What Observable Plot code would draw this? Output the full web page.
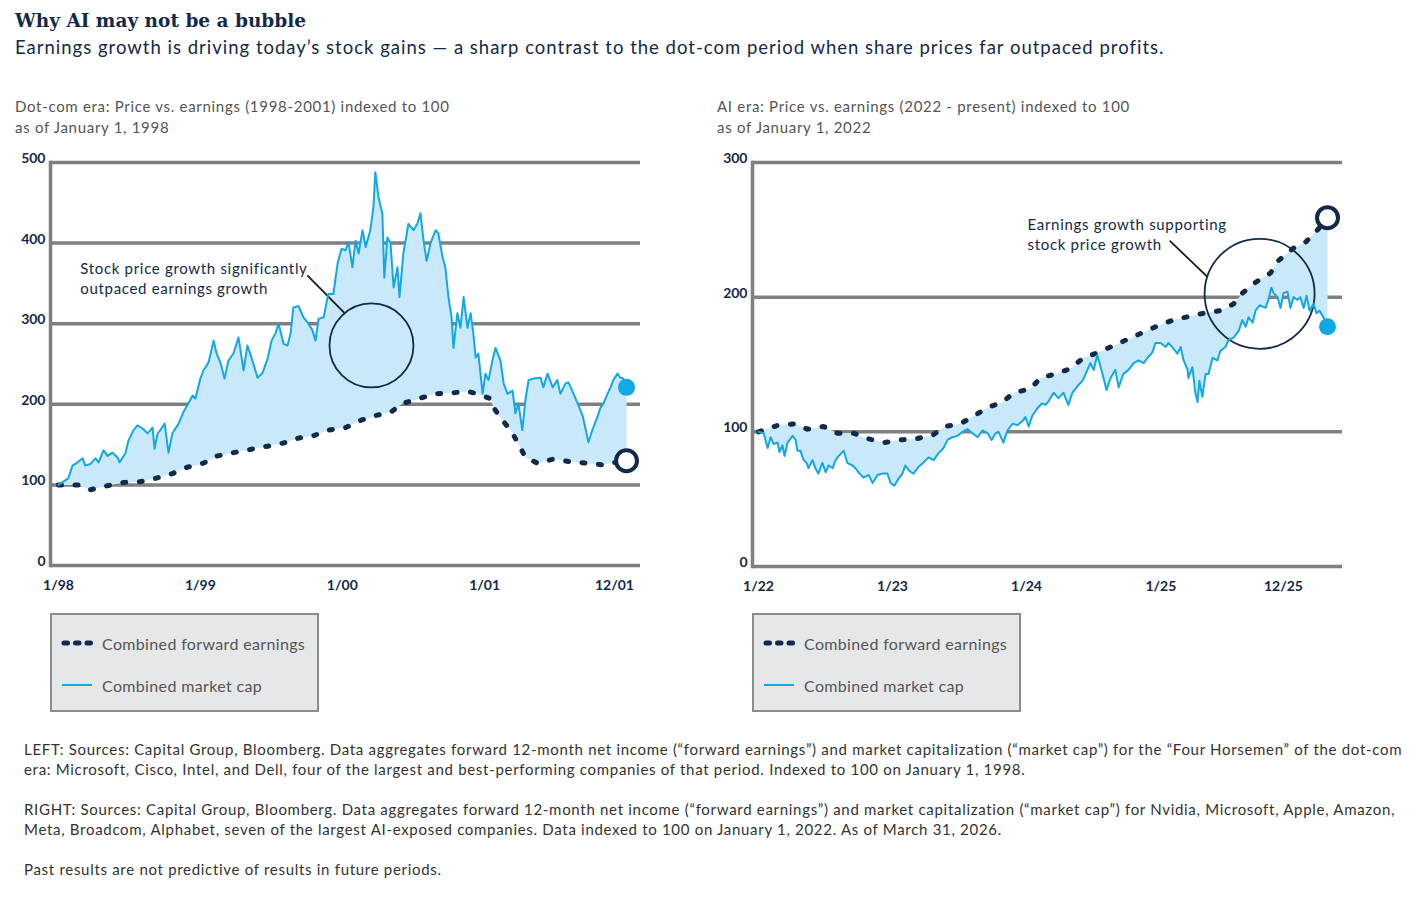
<!DOCTYPE html>
<html>
<head>
<meta charset="utf-8">
<script src="https://cdn.jsdelivr.net/npm/d3@7"></script>
<script src="https://cdn.jsdelivr.net/npm/@observablehq/plot@0.6"></script>
<style>
  body { margin: 0; background: #fff; font-family: Lato, "Noto Sans", sans-serif; }
  #page { position: relative; width: 1425px; height: 900px; overflow: hidden; }
  .abs { position: absolute; white-space: nowrap; }
  #title { left: 15px; top: 9px; font-family: "DejaVu Serif", serif; font-weight: 700; font-size: 18.5px; line-height: 24px; color: #13294b; }
  #subtitle { left: 15px; top: 36px; font-size: 18.5px; line-height: 22px; letter-spacing: 1px; color: #13294b; }
  .head { top: 96px; font-size: 15px; line-height: 21px; letter-spacing: 0.7px; color: #555; }
  .legend { position: absolute; top: 613px; width: 269px; height: 99px; box-sizing: border-box; border: 2px solid #8c8c8c; background: #e6e7e9; }
  .legend svg, .legend span { position: absolute; }
  .legend span { font-size: 16px; line-height: 20px; letter-spacing: 0.35px; color: #555; white-space: nowrap; }
  #notes { left: 24px; top: 739px; font-size: 15px; line-height: 20px; letter-spacing: 0.7px; color: #333; }
  #notes p { margin: 0 0 20px 0; }
  .chart { position: absolute; top: 140px; }
  .chart svg { overflow: visible; }
</style>
</head>
<body>
<div id="page">
  <div id="title" class="abs">Why AI may not be a bubble</div>
  <div id="subtitle" class="abs">Earnings growth is driving today’s stock gains — a sharp contrast to the dot-com period when share prices far outpaced profits.</div>

  <div class="abs head" style="left:15px">Dot-com era: Price vs. earnings (1998-2001) indexed to 100<br>as of January 1, 1998</div>
  <div class="abs head" style="left:717px">AI era: Price vs. earnings (2022 - present) indexed to 100<br>as of January 1, 2022</div>

  <div id="left" class="chart" style="left:0px"></div>
  <div id="right" class="chart" style="left:700px"></div>

  <div class="legend" style="left:50px">
    <svg style="left:8px;top:23px" width="36" height="10"><line x1="4" y1="5" x2="32" y2="5" stroke="#13294b" stroke-width="5" stroke-linecap="round" stroke-dasharray="3.5,8"/></svg>
    <span style="left:50px;top:19px">Combined forward earnings</span>
    <svg style="left:8px;top:65px" width="36" height="10"><line x1="2" y1="5" x2="32" y2="5" stroke="#12a8e6" stroke-width="2"/></svg>
    <span style="left:50px;top:61px">Combined market cap</span>
  </div>
  <div class="legend" style="left:752px">
    <svg style="left:8px;top:23px" width="36" height="10"><line x1="4" y1="5" x2="32" y2="5" stroke="#13294b" stroke-width="5" stroke-linecap="round" stroke-dasharray="3.5,8"/></svg>
    <span style="left:50px;top:19px">Combined forward earnings</span>
    <svg style="left:8px;top:65px" width="36" height="10"><line x1="2" y1="5" x2="32" y2="5" stroke="#12a8e6" stroke-width="2"/></svg>
    <span style="left:50px;top:61px">Combined market cap</span>
  </div>

  <div id="notes" class="abs">
    <p>LEFT: Sources: Capital Group, Bloomberg. Data aggregates forward 12-month net income (“forward earnings”) and market capitalization (“market cap”) for the “Four Horsemen” of the dot-com<br>era: Microsoft, Cisco, Intel, and Dell, four of the largest and best-performing companies of that period. Indexed to 100 on January 1, 1998.</p>
    <p>RIGHT: Sources: Capital Group, Bloomberg. Data aggregates forward 12-month net income (“forward earnings”) and market capitalization (“market cap”) for Nvidia, Microsoft, Apple, Amazon,<br>Meta, Broadcom, Alphabet, seven of the largest AI-exposed companies. Data indexed to 100 on January 1, 2022. As of March 31, 2026.</p>
    <p>Past results are not predictive of results in future periods.</p>
  </div>
</div>

<script>
// ---------- Dot-com era (1998–2001), indexed to 100 on Jan 1, 1998 ----------
const dotcomCapDates = [
  "1998-01-01","1998-01-26","1998-02-06","1998-02-19","1998-03-04","1998-03-11","1998-03-24","1998-04-06","1998-04-14","1998-04-27",
  "1998-05-07","1998-05-20","1998-06-02","1998-06-07","1998-06-22","1998-06-30","1998-07-13","1998-07-23","1998-08-05","1998-08-18",
  "1998-08-31","1998-09-05","1998-09-13","1998-09-20","1998-10-01","1998-10-11","1998-10-21","1998-11-06","1998-11-18","1998-12-01",
  "1998-12-12","1998-12-19","1999-01-01","1999-01-09","1999-01-22","1999-02-04","1999-02-11","1999-02-22","1999-03-04","1999-03-14",
  "1999-03-27","1999-04-09","1999-04-22","1999-05-02","1999-05-15","1999-05-28","1999-06-10","1999-06-23","1999-07-03","1999-07-13",
  "1999-07-21","1999-08-03","1999-08-13","1999-08-21","1999-08-28","1999-09-10","1999-09-23","1999-10-03","1999-10-16","1999-10-24",
  "1999-11-01","1999-11-14","1999-11-26","1999-12-09","1999-12-20","1999-12-30","2000-01-09","2000-01-17","2000-01-27","2000-02-04",
  "2000-02-12","2000-02-22","2000-03-01","2000-03-13","2000-03-21","2000-03-26","2000-04-03","2000-04-13","2000-04-18","2000-04-26",
  "2000-05-04","2000-05-12","2000-05-22","2000-05-27","2000-06-06","2000-06-19","2000-07-02","2000-07-12","2000-07-20","2000-07-28",
  "2000-08-05","2000-08-15","2000-08-28","2000-09-04","2000-09-15","2000-09-22","2000-09-30","2000-10-08","2000-10-13","2000-10-23",
  "2000-10-31","2000-11-08","2000-11-18","2000-11-26","2000-12-03","2000-12-09","2000-12-16","2000-12-27","2001-01-03","2001-01-11",
  "2001-01-21","2001-01-29","2001-02-11","2001-02-19","2001-03-01","2001-03-14","2001-03-21","2001-03-29","2001-04-08","2001-04-16",
  "2001-04-24","2001-05-07","2001-05-25","2001-06-01","2001-06-12","2001-06-25","2001-07-07","2001-07-15","2001-07-28","2001-08-05",
  "2001-08-18","2001-08-28","2001-09-10","2001-09-17","2001-09-25","2001-10-05","2001-10-18","2001-10-26","2001-11-03","2001-11-13",
  "2001-11-21","2001-11-28","2001-12-09","2001-12-16","2001-12-24","2002-01-01"
];
const dotcomCap = [
  100,108,124,128,133,124,126,133,128,143,
  136,140,134,128,139,155,168,174,170,164,
  171,145,164,168,176,140,164,176,190,201,
  211,207,232,242,252,279,264,251,232,254,
  263,283,242,273,254,233,239,257,279,288,
  300,275,273,288,320,322,308,302,292,279,
  306,308,337,337,375,393,391,401,370,403,
  387,416,395,416,444,488,457,437,357,407,
  400,345,370,333,387,424,416,424,437,403,
  378,400,416,412,382,370,333,308,270,313,
  295,333,295,313,288,258,263,213,238,230,
  254,270,254,226,213,217,189,201,168,205,
  230,232,233,221,238,221,230,213,226,227,
  213,201,186,171,153,168,184,196,201,213,
  221,230,238,233,232,221
];
const dotcomEarnDates = [
  "1998-01-01","1998-02-21","1998-03-11","1998-03-24","1998-05-07","1998-06-17","1998-07-31","1998-09-07","1998-10-21","1998-11-29",
  "1999-01-09","1999-02-14","1999-03-27","1999-05-10","1999-06-23","1999-08-03","1999-09-10","1999-10-19","1999-11-26","2000-01-09",
  "2000-02-17","2000-03-26","2000-05-04","2000-06-04","2000-07-15","2000-08-28","2000-10-05","2000-11-18","2000-12-14","2001-01-16",
  "2001-01-24","2001-02-16","2001-03-09","2001-03-29","2001-04-16","2001-05-17","2001-06-27","2001-08-05","2001-09-17","2001-10-31",
  "2001-11-21","2002-01-01"
];
const dotcomEarn = [
  100,100,96,94,99,103,104,108,114,122,
  127,136,140,144,148,152,158,161,168,171,
  180,186,190,201,207,213,214,216,213,207,
  196,180,168,151,134,127,132,129,127,125,
  127,130
];
const dotcomTicks = ["1998-01-01","1999-01-01","2000-01-01","2001-01-01","2001-12-01"];
const dotcomYTicks = [0, 100, 200, 300, 400, 500];

// ---------- AI era (2022–Mar 2026), indexed to 100 on Jan 1, 2022 ----------
const aiCapDates = [
  "2022-01-01","2022-01-15","2022-01-26","2022-02-03","2022-02-11","2022-02-22","2022-02-27","2022-03-07","2022-03-13","2022-03-21",
  "2022-04-04","2022-04-12","2022-04-17","2022-04-25","2022-05-04","2022-05-12","2022-05-17","2022-05-28","2022-06-05","2022-06-13",
  "2022-06-24","2022-07-03","2022-07-11","2022-07-22","2022-07-30","2022-08-07","2022-08-21","2022-08-31","2022-09-14","2022-09-22",
  "2022-10-03","2022-10-14","2022-10-28","2022-11-08","2022-11-21","2022-12-05","2022-12-18","2022-12-27","2023-01-06","2023-01-17",
  "2023-01-28","2023-02-05","2023-02-16","2023-02-27","2023-03-13","2023-03-26","2023-04-09","2023-04-23","2023-05-06","2023-05-20",
  "2023-05-31","2023-06-13","2023-06-27","2023-07-11","2023-07-24","2023-08-07","2023-08-21","2023-09-03","2023-09-17","2023-09-28",
  "2023-10-09","2023-10-17","2023-10-30","2023-11-10","2023-11-24","2023-12-08","2023-12-21","2023-12-29","2024-01-07","2024-01-17",
  "2024-01-29","2024-02-12","2024-02-22","2024-03-02","2024-03-15","2024-03-28","2024-04-11","2024-04-24","2024-05-05","2024-05-19",
  "2024-06-02","2024-06-15","2024-06-23","2024-07-02","2024-07-12","2024-07-26","2024-08-06","2024-08-17","2024-08-30","2024-09-08",
  "2024-09-21","2024-10-05","2024-10-19","2024-11-01","2024-11-15","2024-11-26","2024-12-09","2024-12-17","2024-12-31","2025-01-14",
  "2025-01-22","2025-02-04","2025-02-15","2025-02-24","2025-03-04","2025-03-15","2025-03-17","2025-03-28","2025-04-05","2025-04-11",
  "2025-04-16","2025-04-24","2025-05-03","2025-05-11","2025-05-22","2025-06-04","2025-06-12","2025-06-26","2025-07-04","2025-07-18",
  "2025-08-01","2025-08-11","2025-08-20","2025-08-28","2025-09-08","2025-09-16","2025-09-27","2025-10-13","2025-10-21","2025-10-29",
  "2025-11-04","2025-11-15","2025-11-23","2025-12-01","2025-12-12","2025-12-20","2025-12-28","2026-01-08","2026-01-16","2026-01-25",
  "2026-02-02","2026-02-10","2026-02-21","2026-03-01","2026-03-09","2026-03-20","2026-03-31"
];
const aiCap = [
  100,99,88,96,91,92,85,90,82,92,
  97,94,86,86,79,77,73,79,73,69,
  77,70,75,73,79,82,86,77,75,73,
  69,66,68,62,68,69,69,62,60,65,
  69,75,71,69,74,77,81,79,84,88,
  94,96,97,100,102,99,96,101,99,94,
  99,100,92,101,106,105,108,111,104,112,
  117,121,120,123,129,125,129,120,129,134,
  138,146,151,146,157,143,131,140,146,133,
  143,146,151,153,151,155,159,166,166,163,
  166,162,158,163,153,146,140,148,129,122,
  138,126,143,143,155,153,160,163,168,170,
  175,183,178,185,181,190,194,192,198,207,
  203,200,192,203,204,192,200,198,200,192,
  201,190,195,188,190,185,178
];
const aiEarnDates = [
  "2022-01-01","2022-02-24","2022-04-12","2022-05-14","2022-06-27","2022-08-04","2022-09-17","2022-10-25","2022-12-08","2023-01-23",
  "2023-03-10","2023-04-23","2023-05-25","2023-07-05","2023-08-12","2023-09-17","2023-10-28","2023-11-27","2024-01-12","2024-02-08",
  "2024-03-20","2024-04-30","2024-06-04","2024-07-15","2024-08-25","2024-10-05","2024-11-15","2024-12-26","2025-02-04","2025-03-23",
  "2025-04-27","2025-06-13","2025-07-18","2025-08-11","2025-09-16","2025-10-27","2025-11-17","2025-12-26","2026-01-31","2026-03-04",
  "2026-03-31"
];
const aiEarn = [
  100,105,106,102,104,99,99,95,92,94,
  95,98,104,106,112,118,122,129,132,140,
  143,147,155,159,164,169,174,179,183,186,
  188,190,195,203,211,218,227,236,241,250,
  259
];
const aiTicks = ["2022-01-01","2023-01-01","2024-01-01","2025-01-01","2025-12-01"];
const aiYTicks = [0, 100, 200, 300];

// ---------- drawing ----------
const navy = "#13294b";
const blue = "#12a8e6";
const shade = "#c9e8f9";
const grid = "#808080";
const parse = d3.utcParse("%Y-%m-%d");
const toSeries = (dates, values) => dates.map((d, i) => ({date: parse(d), value: values[i]}));

function panel(o) {
  const cap = toSeries(o.capDates, o.cap);
  const earn = toSeries(o.earnDates, o.earn);
  // closed outline: market cap forward, earnings backward
  const band = cap.concat(earn.slice().reverse());
  const note = o.note, ring = o.ring, leader = o.leader;
  const svg = Plot.plot({
    width: 660,
    height: 470,
    marginTop: 22,
    marginBottom: o.marginBottom,
    marginLeft: o.marginLeft,
    marginRight: o.marginRight,
    style: {fontFamily: "Lato, sans-serif", background: "transparent"},
    x: {type: "utc", domain: o.xDomain.map(parse), insetLeft: o.insetLeft, insetRight: o.insetRight},
    y: {domain: [0, o.yTicks[o.yTicks.length - 1]]},
    marks: [
      Plot.ruleY(o.yTicks, {stroke: grid, strokeWidth: 3.5}),
      Plot.frame({anchor: "left", stroke: grid, strokeWidth: 3.5}),
      Plot.line(band, {x: "date", y: "value", fill: shade, stroke: "none"}),
      Plot.axisY({ticks: o.yTicks, tickSize: 0, tickPadding: 5, dy: -4, fontSize: 14, fontWeight: 700, fill: navy}),
      Plot.axisX({ticks: o.xTicks.map(parse), tickFormat: d3.utcFormat("%-m/%y"), tickSize: 0, tickPadding: 15, fontSize: 14, fontWeight: 700, fill: navy}),
      Plot.link([leader], {x1: d => parse(d.d1), y1: "v1", x2: d => parse(d.d2), y2: "v2", stroke: "#1a1a1a", strokeWidth: 1.8}),
      Plot.dot([ring], {x: d => parse(d.date), y: "value", r: ring.r, stroke: navy, strokeWidth: 1.8, fill: "none"}),
      Plot.line(earn, {x: "date", y: "value", stroke: navy, strokeWidth: 5, strokeDasharray: "3,13.5", strokeLinecap: "round"}),
      Plot.line(cap, {x: "date", y: "value", stroke: blue, strokeWidth: 2}),
      Plot.dot([cap[cap.length - 1]], {x: "date", y: "value", r: 8.5, fill: blue}),
      Plot.dot([earn[earn.length - 1]], {x: "date", y: "value", r: 10.5, fill: "white", stroke: navy, strokeWidth: 4}),
      Plot.text([note], {x: d => parse(d.date), y: "value", text: "text", textAnchor: "start", lineAnchor: "middle", lineHeight: 1.33, fontSize: 15, fill: navy})
    ]
  });
  // slightly looser tracking for the annotation text
  d3.select(svg).selectAll('g[aria-label="text"] text').attr("letter-spacing", "0.68px");
  return svg;
}

document.getElementById("left").append(panel({
  capDates: dotcomCapDates, cap: dotcomCap,
  earnDates: dotcomEarnDates, earn: dotcomEarn,
  xDomain: ["1998-01-01", "2002-01-01"], xTicks: dotcomTicks, yTicks: dotcomYTicks,
  marginLeft: 50, marginRight: 20, marginBottom: 45, insetLeft: 8, insetRight: 14,
  note: {date: "1998-02-26", value: 357, text: "Stock price growth significantly\noutpaced earnings growth"},
  ring: {date: "2000-03-16", value: 273, r: 42},
  leader: {d1: "1999-10-03", v1: 360, d2: "2000-01-07", v2: 313}
}));

document.getElementById("right").append(panel({
  capDates: aiCapDates, cap: aiCap,
  earnDates: aiEarnDates, earn: aiEarn,
  xDomain: ["2022-01-01", "2026-03-31"], xTicks: aiTicks, yTicks: aiYTicks,
  marginLeft: 52, marginRight: 18, marginBottom: 44, insetLeft: 6, insetRight: 15,
  note: {date: "2024-01-04", value: 247, text: "Earnings growth supporting\nstock price growth"},
  ring: {date: "2025-09-27", value: 202.5, r: 55},
  leader: {d1: "2025-01-25", v1: 242, d2: "2025-05-08", v2: 215}
}));
</script>
</body>
</html>
